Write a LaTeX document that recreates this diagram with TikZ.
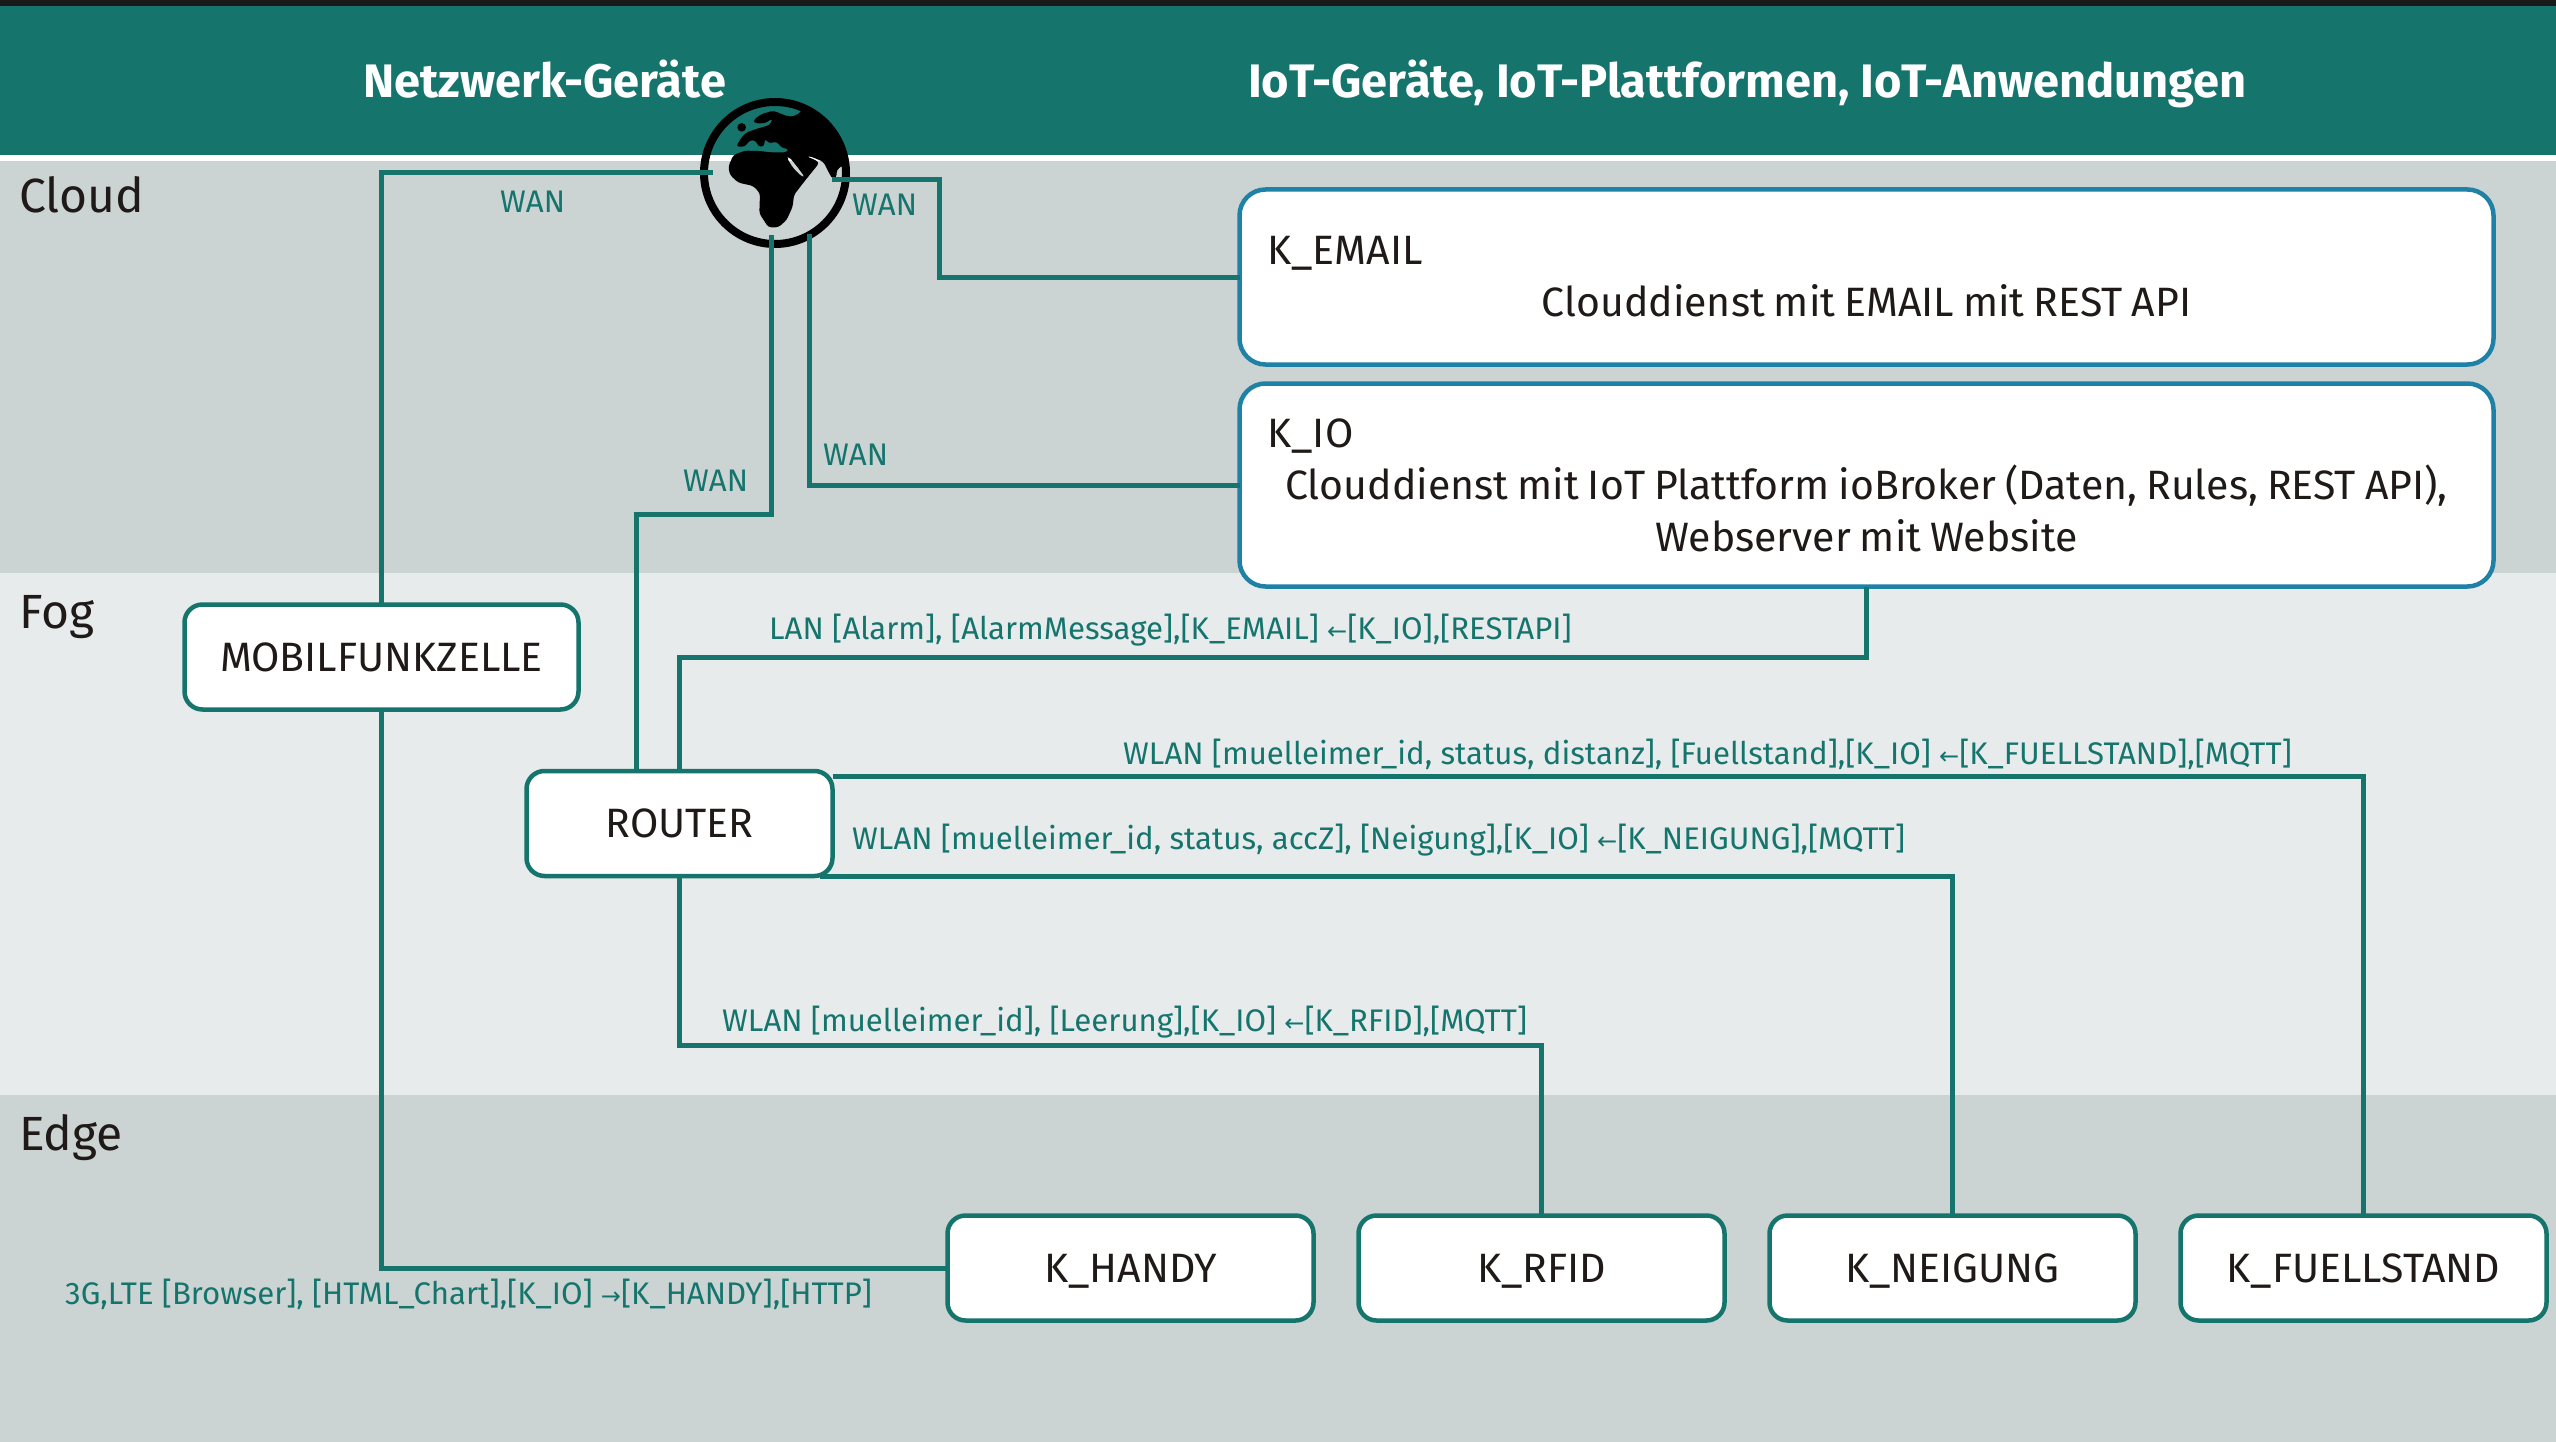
\documentclass[tikz,border=0pt]{standalone}
\usepackage{fontspec}
\setmainfont{Fira Sans}
\newfontfamily\arrowfont{DejaVu Sans}
\usetikzlibrary{positioning}

\definecolor{tealdark}{HTML}{15756D}
\definecolor{blueline}{HTML}{1F81A6}
\definecolor{cloudband}{HTML}{CBD4D3}
\definecolor{fogband}{HTML}{E7EBEC}
\definecolor{inktext}{HTML}{1F1A17}
\definecolor{topstrip}{HTML}{1A1A1A}

\newcommand{\leftarr}{{\fontsize{24}{24}\selectfont\arrowfont ←}}
\newcommand{\rightarr}{{\fontsize{24}{24}\selectfont\arrowfont →}}

\tikzset{
  devbox/.style={rectangle, draw=tealdark, line width=4.5pt, fill=white, rounded corners=18pt, outer sep=0pt, inner sep=0pt, text=inktext, font=\fontsize{41}{52}\selectfont, minimum height=105pt},
  edgebox/.style={devbox, minimum width=366pt, text depth=0pt},
  cloudbox/.style={devbox, draw=blueline, rounded corners=26pt, align=center, text width=1198pt, minimum width=1254pt, execute at begin node={\spaceskip=9pt\relax}},
  link/.style={draw=tealdark, line width=5pt},
  linklabel/.style={anchor=base west, inner sep=0pt, text=tealdark, font=\fontsize{31.2}{38}\selectfont},
  bandlabel/.style={anchor=base west, inner sep=0pt, text=inktext, font=\fontsize{48}{56}\selectfont},
  headlabel/.style={anchor=base west, inner sep=0pt, text=white, font=\fontsize{47}{54}\selectfont\bfseries},
}

\begin{document}
\begin{tikzpicture}[x=1pt, y=-1pt, node distance=45pt]
        \useasboundingbox (0,0) rectangle (2556,1442);

        % Bands
        \fill[white] (0,0) rectangle (2556,1442);
        \fill[topstrip] (0,0) rectangle (2556,6);
        \fill[tealdark] (0,6) rectangle (2556,155);
        \fill[cloudband] (0,161) rectangle (2556,573);
        \fill[fogband] (0,573) rectangle (2556,1095);
        \fill[cloudband] (0,1095) rectangle (2556,1442);

        % Headings
        \node[headlabel] (netzhead) at (363,98) {Netzwerk-Geräte};
        \node[headlabel] (iothead) at (1248,98) {IoT-Geräte, IoT-Plattformen, IoT-Anwendungen};
        \node[bandlabel] (cloudlabel) at (19,213) {Cloud};
        \node[bandlabel] (foglabel) at (19,628) {Fog};
        \node[bandlabel] (edgelabel) at (19,1150) {Edge};

        % Globe
        \begin{scope}[shift={(690,90)}, xscale=0.3333, yscale=0.3333]
            \clip (255,249) circle (215);
            \fill[black, even odd rule, rounded corners=3pt] (335,20) -- (335,65) -- (310,80) -- (290,78) -- (250,62) -- (215,72) -- (190,90) -- (195,100) -- (225,100) -- (248,85) -- (240,105) -- (205,115) -- (175,125) -- (160,135) -- (150,150) -- (138,170) -- (165,170) -- (180,150) -- (198,152) -- (205,170) -- (222,170) -- (225,145) -- (235,160) -- (262,155) -- (272,172) -- (297,178) -- (290,187) -- (240,187) -- (210,183) -- (165,182) -- (130,195) -- (115,230) -- (120,255) -- (145,278) -- (190,288) -- (210,310) -- (208,370) -- (235,412) -- (265,412) -- (290,390) -- (308,350) -- (312,315) -- (345,272) -- (375,235) -- (388,218) -- (372,208) -- (350,200) -- (358,198) -- (400,215) -- (415,245) -- (428,268) -- (440,262) -- (440,240) -- (458,226) -- (500,226) -- (500,20) -- cycle
                (290,203) -- (297,200) -- (320,228) -- (345,262) -- (333,258) -- (310,235) -- cycle;
            \fill[black] (155,112) circle (13);
        \end{scope}
        \node[circle, draw=black, line width=8pt, minimum size=142pt, inner sep=0pt, outer sep=0pt] (globe) at (775,173) {};

        % Cloud services
        \node[cloudbox, minimum height=175pt] (kemail) at (1866.5,277) {\makebox[\linewidth][l]{K\_EMAIL}\\Clouddienst mit EMAIL mit REST API};
        \node[cloudbox, minimum height=203pt] (kio) at (1866.5,485) {\makebox[\linewidth][l]{K\_IO}\\Clouddienst mit IoT Plattform ioBroker (Daten, Rules, REST API),\\Webserver mit Website};

        % Network devices
        \node[devbox, minimum width=394pt] (mobilfunk) at (381.5,657) {MOBILFUNKZELLE};
        \node[devbox, minimum width=306pt] (router) at (679.5,823.5) {ROUTER};

        % Edge devices
        \node[edgebox] (khandy) at (1130.5,1268) {K\_HANDY};
        \node[edgebox, right=of khandy] (krfid) {K\_RFID};
        \node[edgebox, right=of krfid] (kneigung) {K\_NEIGUNG};
        \node[edgebox, right=of kneigung] (kfuell) {K\_FUELLSTAND};

        % Free ends on the globe
        \coordinate (globewest) at (713,173);
        \coordinate (globeeast) at (832,180);
        \coordinate (globesouth) at (771,235);
        \coordinate (globesoutheast) at (809,234);

        % Connections
        \draw[link] (mobilfunk.north) |- (globewest);
        \draw[link] (mobilfunk.south) |- (khandy.west);
        \draw[link] (globeeast) -| (939,277) -- (kemail.west);
        \draw[link] (globesouth) |- (636,514) -- (router.north -| 636,0);
        \draw[link] (globesoutheast) |- (kio.west);
        \draw[link] (router.north) -- (router.north |- 0,657) -| (kio.south);
        \draw[link] ([yshift=47pt]router.east) -| (kfuell.north);
        \draw[link] ([xshift=-13pt]router.south east) -| (kneigung.north);
        \draw[link] (router.south) -- (router.south |- 0,1045) -| (krfid.north);

        % Link labels
        \node[linklabel] (wanmobil) at (500,212) {WAN};
        \node[linklabel] (wanemail) at (852,215) {WAN};
        \node[linklabel] (wanio) at (823,465) {WAN};
        \node[linklabel] (wanrouter) at (683,491) {WAN};
        \node[linklabel] (lanalarm) at (769,639) {LAN [Alarm], [AlarmMessage],[K\_EMAIL] \leftarr[K\_IO],[RESTAPI]};
        \node[linklabel] (wlanfuell) at (1123,764) {WLAN [muelleimer\_id, status, distanz], [Fuellstand],[K\_IO] \leftarr[K\_FUELLSTAND],[MQTT]};
        \node[linklabel] (wlanneig) at (852,849) {WLAN [muelleimer\_id, status, accZ], [Neigung],[K\_IO] \leftarr[K\_NEIGUNG],[MQTT]};
        \node[linklabel] (wlanrfid) at (722,1031) {WLAN [muelleimer\_id], [Leerung],[K\_IO] \leftarr[K\_RFID],[MQTT]};
        \node[linklabel] (mobilhandy) at (65,1304) {3G,LTE [Browser], [HTML\_Chart],[K\_IO] \rightarr[K\_HANDY],[HTTP]};
    \end{tikzpicture}
\end{document}
